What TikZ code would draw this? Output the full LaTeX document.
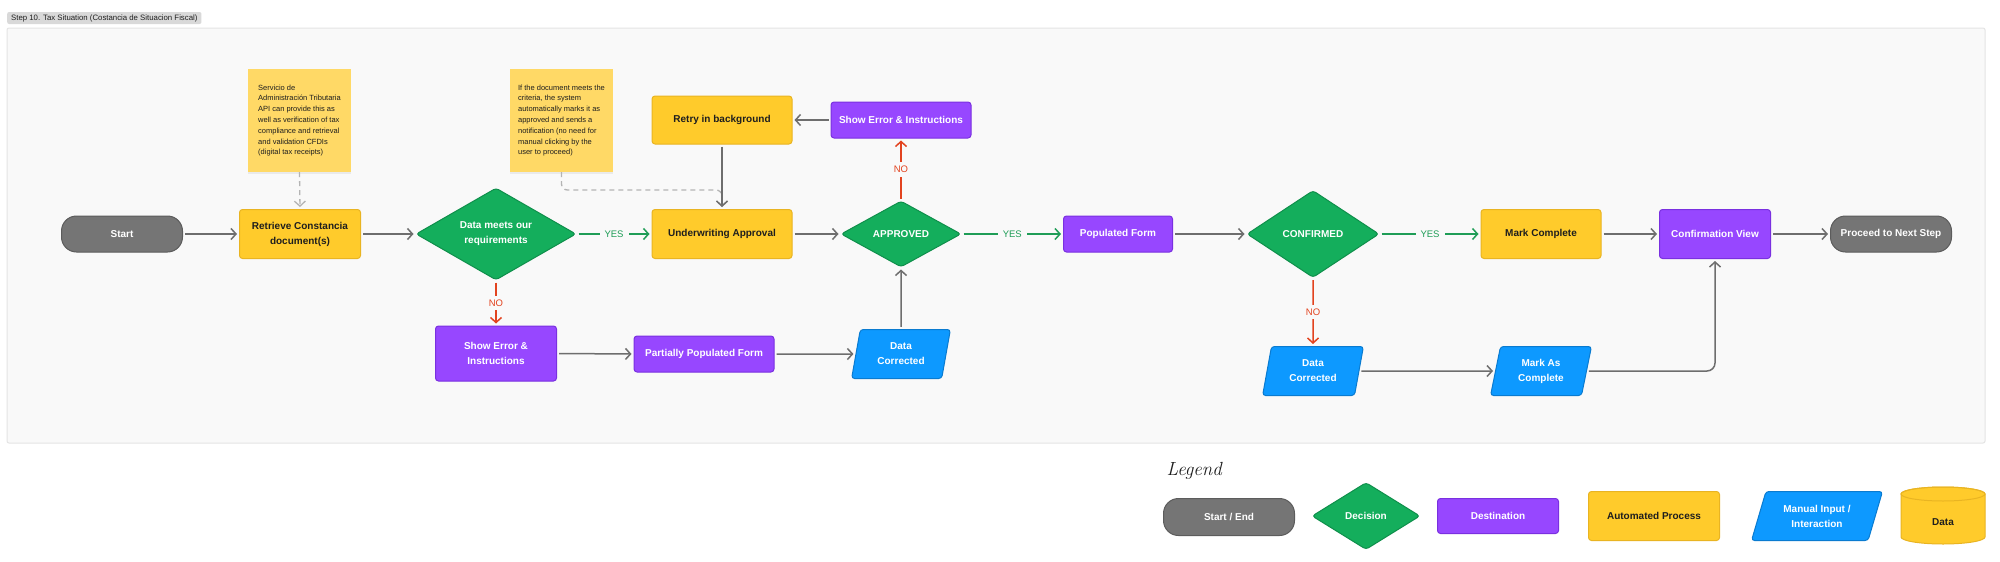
\documentclass[tikz,border=0pt]{standalone}
\usepackage{fontspec}
\newfontfamily\uifont{Liberation Sans}
\usetikzlibrary{shapes.geometric,arrows.meta,shadows}
\definecolor{cpanel}{HTML}{F9F9F9}
\definecolor{cpanelb}{HTML}{E4E4E4}
\definecolor{cgray}{HTML}{757575}
\definecolor{cgrayb}{HTML}{5C5C5C}
\definecolor{cyel}{HTML}{FFCB2B}
\definecolor{cyelb}{HTML}{E9B422}
\definecolor{cgrn}{HTML}{14AE5C}
\definecolor{cgrnb}{HTML}{0F8F4B}
\definecolor{cpur}{HTML}{9747FF}
\definecolor{cpurb}{HTML}{7A30E0}
\definecolor{cblu}{HTML}{0D99FF}
\definecolor{cblub}{HTML}{0A7BD0}
\definecolor{cnote}{HTML}{FFD966}
\definecolor{ctxt}{HTML}{1E1E1E}
\definecolor{carrow}{HTML}{6E6E6E}
\definecolor{cdash}{HTML}{B4B4B4}
\definecolor{cyes}{HTML}{1F9D57}
\definecolor{cno}{HTML}{E2431F}
\definecolor{ctitle}{HTML}{D9D9D9}
\tikzset{
  box/.style={inner sep=0pt, align=center, line width=1pt, font=\uifont\bfseries\fontsize{10}{15}\selectfont},
  termnode/.style={box, rounded corners=15pt, fill=cgray, draw=cgrayb, text=white},
  procnode/.style={box, rounded corners=3pt, fill=cyel, draw=cyelb, text=ctxt},
  destnode/.style={box, rounded corners=3pt, fill=cpur, draw=cpurb, text=white},
  decnode/.style={box, diamond, aspect=1.75, rounded corners=3pt, fill=cgrn, draw=cgrnb, text=white},
  mannode/.style={box, trapezium, trapezium left angle=77, trapezium right angle=103, trapezium stretches=true, rounded corners=3pt, fill=cblu, draw=cblub, text=white},
  notenode/.style={fill=cnote, inner sep=0pt, minimum width=103pt, minimum height=103pt, align=left, font=\uifont\fontsize{7.5}{10.8}\selectfont, text=ctxt, drop shadow={opacity=0.12, shadow xshift=0pt, shadow yshift=-2pt}},
  flow/.style={draw=carrow, line width=1.5pt, -{Straight Barb[length=5pt,width=11pt]}, shorten >=2pt, shorten <=2pt},
  yesflow/.style={flow, draw=cyes},
  noflow/.style={flow, draw=cno},
  yeslab/.style={fill=cpanel, text=cyes, inner xsep=5pt, inner ysep=2pt, font=\uifont\fontsize{9.5}{11}\selectfont},
  nolab/.style={fill=cpanel, text=cno, inner xsep=2pt, inner ysep=4pt, font=\uifont\fontsize{9.5}{11}\selectfont},
  noteflow/.style={draw=cdash, line width=1.3pt, dash pattern=on 5pt off 4pt, -{Straight Barb[length=5pt,width=11pt]}, shorten >=2pt, rounded corners=6pt},
}
\begin{document}
\begin{tikzpicture}[x=1pt,y=-1pt]
\useasboundingbox[fill=white] (0,0) rectangle (2000,562);
% panel and title
\draw[fill=cpanel, draw=cpanelb, line width=1pt, rounded corners=2pt] (7,28) rectangle (1985,443);
\node[fill=ctitle, rounded corners=2pt, anchor=west, inner xsep=4pt, inner ysep=0pt, minimum height=12pt, text=ctxt, font=\uifont\fontsize{7.8}{8.5}\selectfont] (title) at (7,18) {Step 10. Tax Situation (Costancia de Situacion Fiscal)};

% notes
\node[notenode] (note1) at (299.5,120.5) {Servicio de\\Administración Tributaria\\API can provide this as\\well as verification of tax\\compliance and retrieval\\and validation CFDIs\\(digital tax receipts)};
\node[notenode] (note2) at (561.5,120.5) {If the document meets the\\criteria, the system\\automatically marks it as\\approved and sends a\\notification (no need for\\manual clicking by the\\user to proceed)};

% main flow
\node[termnode, minimum width=121pt, minimum height=36pt] (start) at (122,234) {Start};
\node[procnode, minimum width=121pt, minimum height=49pt] (ret) at (300,234) {Retrieve Constancia\\document(s)};
\node[decnode, minimum width=160pt, minimum height=92pt] (d1) at (496,234) {Data meets our\\requirements};
\node[procnode, minimum width=140pt, minimum height=49pt] (uw) at (722,234) {Underwriting Approval};
\node[procnode, minimum width=140pt, minimum height=48pt] (retry) at (722,120) {Retry in background};
\node[destnode, minimum width=140pt, minimum height=36pt] (se2) at (901,120) {Show Error \& Instructions};
\node[decnode, minimum width=120pt, minimum height=66pt] (appr) at (901,234) {APPROVED};
\node[destnode, minimum width=121pt, minimum height=55pt] (se1) at (496,353.5) {Show Error \&\\Instructions};
\node[destnode, minimum width=140pt, minimum height=36pt] (ppf) at (704,354) {Partially Populated Form};
\node[mannode, minimum width=99pt, minimum height=49pt] (dc1) at (901,354) {Data\\Corrected};
\node[destnode, minimum width=109pt, minimum height=36pt] (pf) at (1118,234) {Populated Form};
\node[decnode, minimum width=132pt, minimum height=87pt] (conf) at (1313,234) {CONFIRMED};
\node[procnode, minimum width=120pt, minimum height=49pt] (mc) at (1541,234) {Mark Complete};
\node[destnode, minimum width=111pt, minimum height=49pt] (cv) at (1715,234) {Confirmation View};
\node[termnode, minimum width=121pt, minimum height=36pt] (proc) at (1891,234) {Proceed to Next Step};
\node[mannode, minimum width=101pt, minimum height=49pt] (dc2) at (1313,371) {Data\\Corrected};
\node[mannode, minimum width=101pt, minimum height=49pt] (mac) at (1541,371) {Mark As\\Complete};

% connectors
\draw[noteflow] (note1.south) -- (ret.north);
\coordinate (dj) at (722,190);
\draw[noteflow] (note2.south) |- (dj) -- (uw.north);
\draw[flow] (start.east) -- (ret.west);
\draw[flow] (ret.east) -- (d1.west);
\draw[yesflow] (d1.east) -- node[yeslab] {YES} (uw.west);
\draw[noflow] (d1.south) -- node[nolab] {NO} (se1.north);
\draw[flow] (se1.east) -- (ppf.west);
\draw[flow] (ppf.east) -- (dc1.west);
\draw[flow] (dc1.north) -- (appr.south);
\draw[flow] (uw.east) -- (appr.west);
\draw[noflow] (appr.north) -- node[nolab] {NO} (se2.south);
\draw[flow] (se2.west) -- (retry.east);
\draw[flow] (retry.south) -- (uw.north);
\draw[yesflow] (appr.east) -- node[yeslab] {YES} (pf.west);
\draw[flow] (pf.east) -- (conf.west);
\draw[yesflow] (conf.east) -- node[yeslab] {YES} (mc.west);
\draw[noflow] (conf.south) -- node[nolab] {NO} (dc2.north);
\draw[flow] (dc2.east) -- (mac.west);
\draw[flow, rounded corners=8pt] (mac.east) -| (cv.south);
\draw[flow] (mc.east) -- (cv.west);
\draw[flow] (cv.east) -- (proc.west);

% legend
\node[anchor=west, text=ctxt, font=\fontsize{19}{20}\selectfont\itshape] (legtitle) at (1163,471) {Legend};
\node[termnode, minimum width=131pt, minimum height=37pt] (lterm) at (1229,517) {Start / End};
\node[decnode, minimum width=108pt, minimum height=67pt] (ldec) at (1366,516) {Decision};
\node[destnode, minimum width=121pt, minimum height=35pt] (ldest) at (1498,516) {Destination};
\node[procnode, minimum width=131pt, minimum height=49pt] (lauto) at (1654,516) {Automated Process};
\node[mannode, trapezium left angle=67, trapezium right angle=113, minimum width=131pt, minimum height=49pt] (lman) at (1817,516) {Manual Input /\\Interaction};
\fill[cyel, draw=cyelb, line width=1pt] (1901,494) -- (1901,537) arc[start angle=180, end angle=0, x radius=42, y radius=7] -- (1985,494) arc[start angle=0, end angle=-180, x radius=42, y radius=7] -- cycle;
\draw[cyelb, line width=1pt] (1943,494) ellipse[x radius=42, y radius=7];
\node[box, text=ctxt] (ldata) at (1943,522) {Data};
\end{tikzpicture}
\end{document}
